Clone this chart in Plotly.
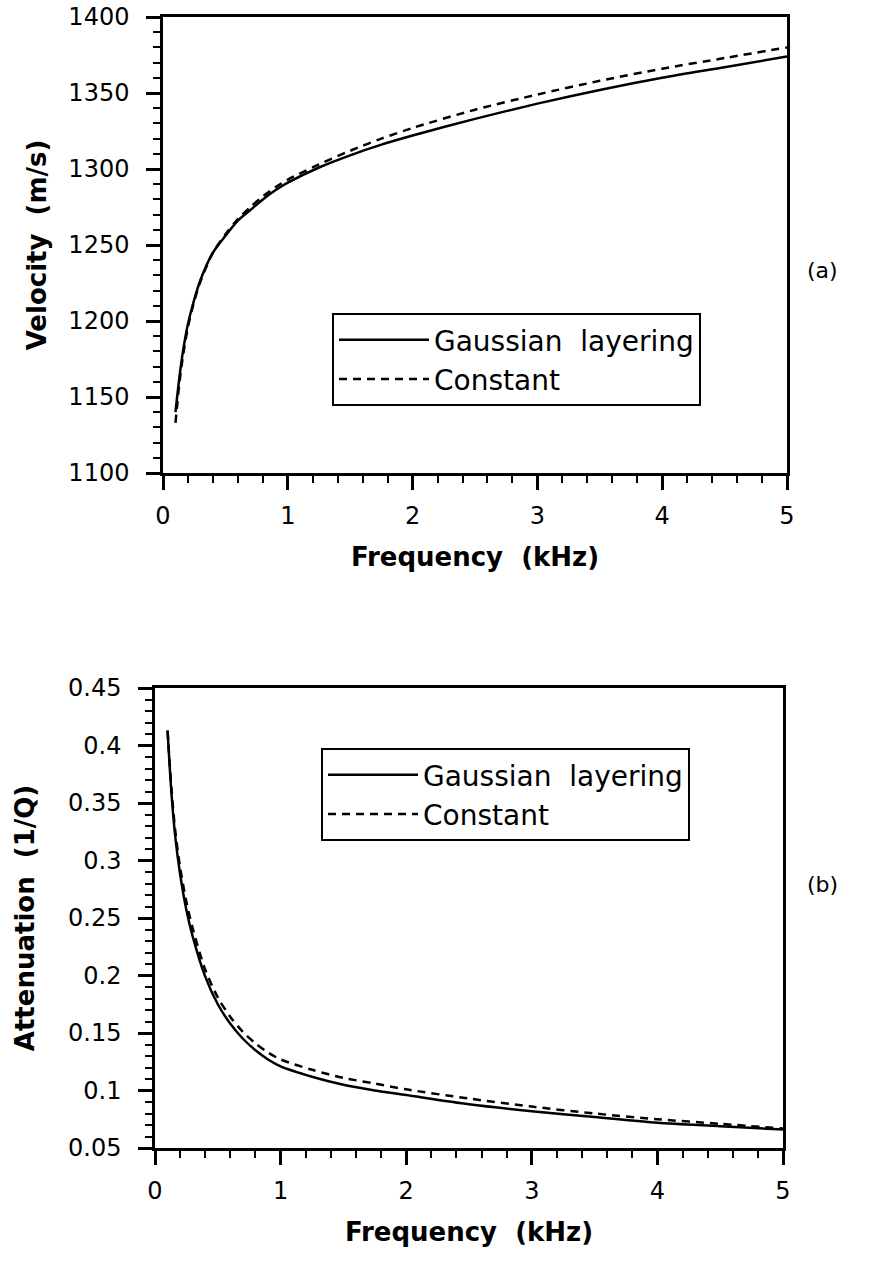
import plotly.graph_objects as go

# ---- data ----
freq_v = [0.10, 0.13, 0.16, 0.20, 0.25, 0.30, 0.40, 0.50, 0.60, 0.70, 0.80, 0.90, 1.00,
          1.25, 1.50, 1.75, 2.00, 2.50, 3.00, 3.50, 4.00, 4.50, 5.00]
vel_gauss = [1140, 1162, 1180, 1198, 1214, 1227, 1245, 1256, 1266, 1273, 1280, 1286, 1291,
             1301, 1309, 1316, 1322, 1333, 1343, 1352, 1360, 1367, 1374]
vel_const = [1133, 1158, 1177, 1196, 1213, 1226, 1245, 1257, 1267, 1275, 1282, 1288, 1293,
             1303, 1312, 1320, 1327, 1339, 1349, 1358, 1366, 1373, 1380]

freq_a = [0.10, 0.13, 0.16, 0.20, 0.25, 0.30, 0.40, 0.50, 0.60, 0.70, 0.80, 0.90, 1.00,
          1.25, 1.50, 1.75, 2.00, 2.50, 3.00, 3.50, 4.00, 4.50, 5.00]
att_gauss = [0.413, 0.360, 0.322, 0.288, 0.257, 0.234, 0.199, 0.175, 0.158, 0.145, 0.135,
             0.127, 0.121, 0.112, 0.105, 0.100, 0.096, 0.088, 0.082, 0.077, 0.072, 0.069, 0.066]
att_const = [0.413, 0.364, 0.327, 0.294, 0.264, 0.241, 0.205, 0.181, 0.164, 0.151, 0.141,
             0.133, 0.127, 0.118, 0.111, 0.106, 0.101, 0.093, 0.086, 0.080, 0.075, 0.071, 0.067]

name_gauss = "Gaussian  layering"
name_const = "Constant"
panel_labels = ["(a)", "(b)"]

W, H = 874, 1261
FONT = "DejaVu Sans, Liberation Sans, Arial, sans-serif"

def px_x(p):
    return p / W

def px_y(p):
    return 1 - p / H

fig = go.Figure()

line_w = 2.5
fig.add_trace(go.Scatter(x=freq_v, y=vel_gauss, mode="lines", name=name_gauss,
                         line=dict(color="black", width=line_w, shape="spline", smoothing=0.8),
                         xaxis="x", yaxis="y", legend="legend"))
fig.add_trace(go.Scatter(x=freq_v, y=vel_const, mode="lines", name=name_const,
                         line=dict(color="black", width=line_w, dash="8px,6px", shape="spline", smoothing=0.8),
                         xaxis="x", yaxis="y", legend="legend"))
fig.add_trace(go.Scatter(x=freq_a, y=att_gauss, mode="lines", name=name_gauss,
                         line=dict(color="black", width=line_w, shape="spline", smoothing=0.8),
                         xaxis="x2", yaxis="y2", legend="legend2"))
fig.add_trace(go.Scatter(x=freq_a, y=att_const, mode="lines", name=name_const,
                         line=dict(color="black", width=line_w, dash="8px,6px", shape="spline", smoothing=0.8),
                         xaxis="x2", yaxis="y2", legend="legend2"))

tickfont = dict(family=FONT, size=24, color="black")
titlefont = dict(family=FONT, size=26, color="black", weight="bold")

def xaxis_cfg(domain, anchor):
    return dict(domain=domain, anchor=anchor, range=[0, 5], dtick=1, tick0=0,
                automargin=False,
                showline=True, linecolor="black", linewidth=2.5, mirror=True,
                ticks="outside", ticklen=14, tickwidth=2.5, tickcolor="black",
                minor=dict(dtick=0.2, ticks="outside", ticklen=7, tickwidth=2, tickcolor="black"),
                showgrid=False, zeroline=False, tickfont=tickfont,
                ticklabelstandoff=5,
                title=dict(text="<b>Frequency  (kHz)</b>", font=titlefont, standoff=20))

def yaxis_cfg(domain, anchor, rng, dtick, mdtick, title, standoff):
    return dict(domain=domain, anchor=anchor, range=rng, dtick=dtick, tick0=rng[0],
                automargin=False,
                showline=True, linecolor="black", linewidth=2.5, mirror=True,
                ticks="outside", ticklen=14, tickwidth=2.5, tickcolor="black",
                minor=dict(dtick=mdtick, ticks="outside", ticklen=7, tickwidth=2, tickcolor="black"),
                showgrid=False, zeroline=False, tickfont=tickfont,
                ticklabelstandoff=12,
                title=dict(text="<b>" + title + "</b>", font=titlefont, standoff=standoff))

legend_font = dict(family=FONT, size=28, color="black")

fig.update_layout(
    width=W, height=H,
    margin=dict(l=0, r=0, t=0, b=0, autoexpand=False),
    paper_bgcolor="white", plot_bgcolor="white",
    font=dict(family=FONT, color="black"),
    xaxis=xaxis_cfg([px_x(163), px_x(787)], "y"),
    yaxis=yaxis_cfg([px_y(473), px_y(17)], "x", [1100, 1400], 50, 10, "Velocity  (m/s)", 15),
    xaxis2=xaxis_cfg([px_x(155), px_x(783)], "y2"),
    yaxis2=yaxis_cfg([px_y(1148), px_y(688)], "x2", [0.05, 0.45], 0.05, 0.01,
                     "Attenuation  (1/Q)", 26),
    legend=dict(x=px_x(332), y=px_y(313), xanchor="left", yanchor="top",
                bgcolor="white", bordercolor="black", borderwidth=2,
                font=legend_font, itemwidth=90, tracegroupgap=0),
    legend2=dict(x=px_x(321), y=px_y(748), xanchor="left", yanchor="top",
                 bgcolor="white", bordercolor="black", borderwidth=2,
                 font=legend_font, itemwidth=90, tracegroupgap=0),
    showlegend=True,
)

fig.add_annotation(text=panel_labels[0], x=px_x(822), y=px_y(270), xref="paper", yref="paper",
                   xanchor="center", yanchor="middle",
                   showarrow=False, font=dict(family=FONT, size=22, color="black"))
fig.add_annotation(text=panel_labels[1], x=px_x(822), y=px_y(885), xref="paper", yref="paper",
                   xanchor="center", yanchor="middle",
                   showarrow=False, font=dict(family=FONT, size=22, color="black"))

fig.write_html("out.html")
